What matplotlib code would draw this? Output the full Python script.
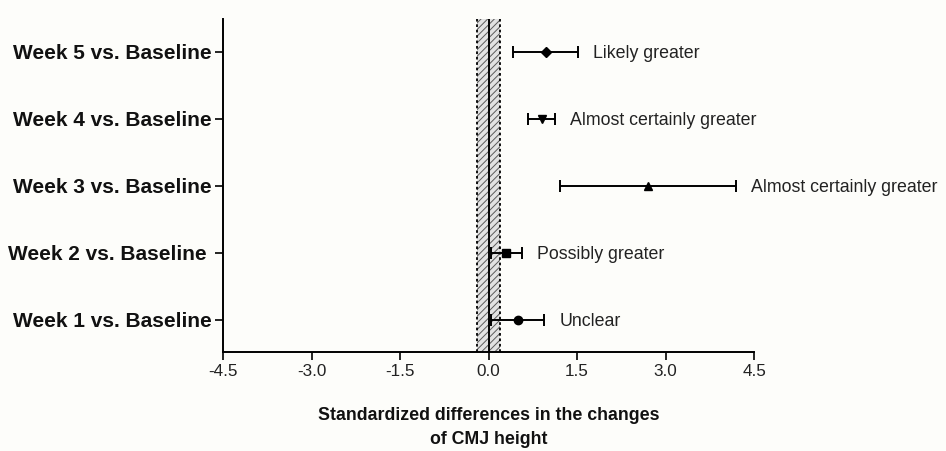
import matplotlib.pyplot as plt

plt.rcParams['font.family'] = ['Liberation Sans', 'DejaVu Sans']
plt.rcParams['hatch.linewidth'] = 0.7
plt.rcParams['hatch.color'] = '#5a5a5a'

# comparisons, bottom to top
comparisons = ['Week 1 vs. Baseline', 'Week 2 vs. Baseline ', 'Week 3 vs. Baseline',
               'Week 4 vs. Baseline', 'Week 5 vs. Baseline']
effect = [0.50, 0.30, 2.70, 0.90, 0.97]
ci_low = [0.05, 0.04, 1.21, 0.67, 0.42]
ci_high = [0.94, 0.56, 4.19, 1.12, 1.51]
markers = ['o', 's', '^', 'v', 'D']
outcome = ['Unclear', 'Possibly greater', 'Almost certainly greater',
           'Almost certainly greater', 'Likely greater']
swc = 0.2  # smallest worthwhile change
xticks = [-4.5, -3.0, -1.5, 0.0, 1.5, 3.0, 4.5]

fig = plt.figure(figsize=(9.46, 4.51), dpi=100)
fig.patch.set_facecolor('#fdfdfa')
ax = fig.add_axes([223/946, 1-352/451, (754-223)/946, (352-19)/451])
ax.set_facecolor('#fdfdfa')

# trivial zone
ax.axvspan(-swc, swc, facecolor='#e2e2e2', edgecolor='#5a5a5a', hatch='/////',
           linewidth=0, zorder=1)
ax.axvline(-swc, color='black', linestyle=(0, (1.5, 1.5)), linewidth=1.3, zorder=2)
ax.axvline(swc, color='black', linestyle=(0, (1.5, 1.5)), linewidth=1.3, zorder=2)
ax.axvline(0, color='black', linewidth=1.4, zorder=2)

msize = {'o': 6, 's': 5.8, '^': 5.5, 'v': 5.5, 'D': 5}
ypos = list(range(1, len(comparisons) + 1))
for i in range(len(comparisons)):
    lo = effect[i] - ci_low[i]
    hi = ci_high[i] - effect[i]
    ax.errorbar(effect[i], ypos[i], xerr=[[lo], [hi]], fmt=markers[i], color='black',
                markersize=msize[markers[i]], elinewidth=1.4,
                capsize=4.5, capthick=1.4, zorder=3)
    ax.annotate(outcome[i], (ci_high[i], ypos[i]), xytext=(11, 0),
                textcoords='offset points', va='center_baseline', ha='left',
                fontsize=12.8, color='#222222')

ax.set_xlim(-4.5, 4.5)
ax.set_ylim(0.52, 5.49)
ax.set_xticks(xticks)
ax.set_xticklabels(['%.1f' % t for t in xticks], fontsize=12.3)
ax.set_yticks(ypos)
ax.set_yticklabels(comparisons, fontsize=15, fontweight='bold')
ax.tick_params(axis='both', direction='out', length=6, width=1.2, colors='black')
ax.tick_params(axis='x', labelcolor='#222222', pad=3)
ax.tick_params(axis='y', labelcolor='#111111', pad=2)
for s in ['top', 'right']:
    ax.spines[s].set_visible(False)
for s in ['left', 'bottom']:
    ax.spines[s].set_linewidth(1.4)

ax.set_xlabel('Standardized differences in the changes\nof CMJ height', fontsize=12.8,
              fontweight='bold', labelpad=20, linespacing=1.55, color='#111111')

fig.savefig('out.png', dpi=100, facecolor=fig.get_facecolor())
